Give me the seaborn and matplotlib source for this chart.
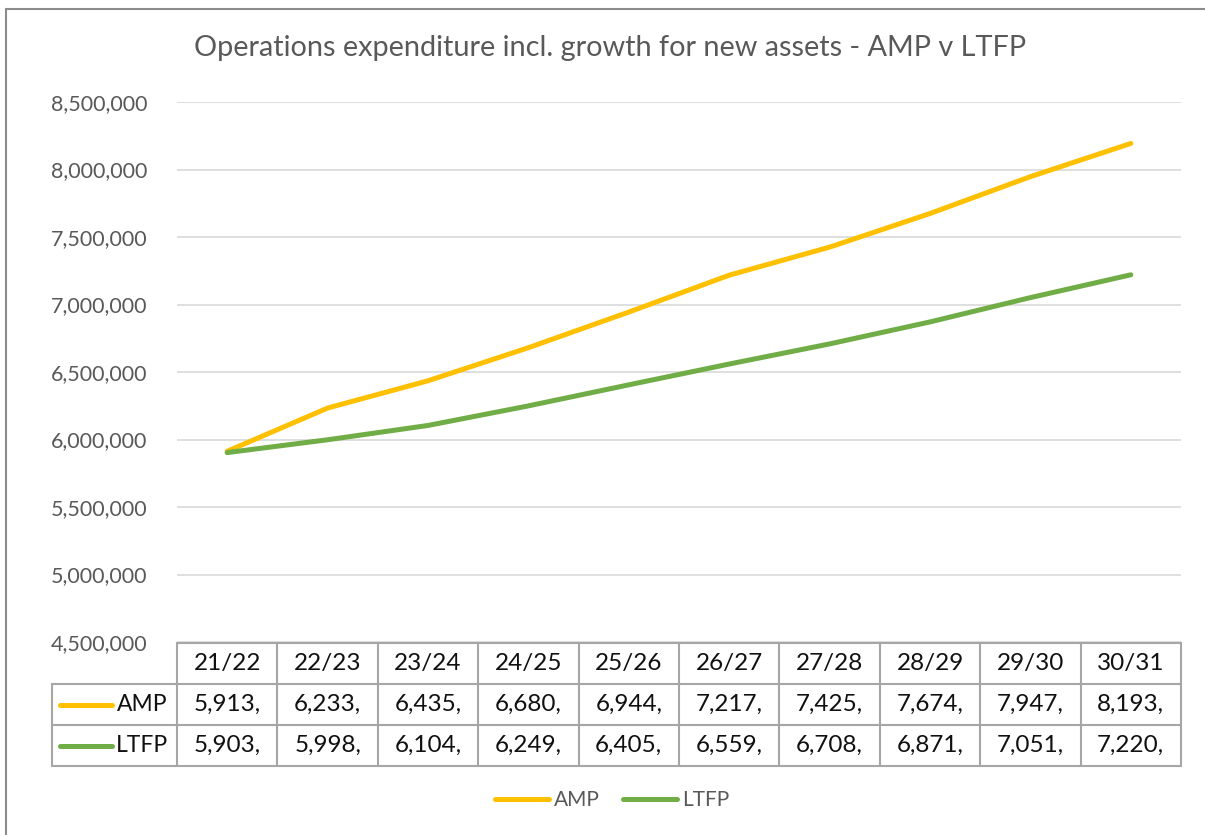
import matplotlib
matplotlib.use('Agg')
import matplotlib.pyplot as plt
import matplotlib.patches as mpatches
import pandas as pd
import seaborn as sns

years = ['21/22', '22/23', '23/24', '24/25', '25/26', '26/27', '27/28', '28/29', '29/30', '30/31']
amp = [5913000, 6233000, 6435000, 6680000, 6944000, 7217000, 7425000, 7674000, 7947000, 8193000]
ltfp = [5903000, 5998000, 6104000, 6249000, 6405000, 6559000, 6708000, 6871000, 7051000, 7220000]
series_names = ['AMP', 'LTFP']
colors = {'AMP': '#FFC000', 'LTFP': '#70AD47'}

df = pd.DataFrame({'year': years, 'AMP': amp, 'LTFP': ltfp})
df['pos'] = range(len(years))
df_long = df.melt(id_vars=['year', 'pos'], value_vars=series_names, var_name='series', value_name='value')

sns.set_theme(style='white')
plt.rcParams['font.family'] = ['Lato', 'DejaVu Sans']

W, H = 1205, 835
fig = plt.figure(figsize=(W / 100, H / 100), dpi=100)

def box(l, t, r, b):
    return [l / W, 1 - b / H, (r - l) / W, (b - t) / H]

grey_txt = '#595959'
grid_col = '#D9D9D9'
table_col = '#A6A6A6'

# Outer chart frame (cropped on right / bottom)
fig.add_artist(mpatches.Rectangle((6 / W, -0.1), 2, 1 - 9 / H + 0.1, transform=fig.transFigure,
                                  fill=False, edgecolor='#8C8C8C', lw=1.5))

# Main plot
ax = fig.add_axes(box(177, 102, 1181, 642))
sns.lineplot(data=df_long, x='pos', y='value', hue='series', palette=colors, ax=ax,
             linewidth=3.6, legend=False)
ax.set_xlim(-0.5, len(years) - 0.5)
ax.set_ylim(4500000, 8500000)
ax.set_yticks(range(4500000, 8500001, 500000))
ax.set_yticklabels([f'{v:,}' for v in range(4500000, 8500001, 500000)], color=grey_txt, fontsize=15.5)
ax.tick_params(axis='y', length=0, pad=21.5)
ax.set_xticks([])
ax.set_xlabel('')
ax.set_ylabel('')
for s in ax.spines.values():
    s.set_visible(False)
ax.grid(axis='y', color=grid_col, lw=1.2)
ax.set_axisbelow(True)
for line in ax.lines:
    line.set_solid_capstyle('round')

fig.text(610 / W, 1 - 48 / H, 'Operations expenditure incl. growth for new assets - AMP v LTFP',
         ha='center', va='center', fontsize=20.8, color=grey_txt)

# Data table below the plot, sharing the category x positions
tax = fig.add_axes(box(177, 643, 1181, 766))
tax.set_xlim(-0.5, len(years) - 0.5)
tax.set_ylim(3, 0)
tax.axis('off')
colw = 1004 / len(years)
lab_left = -0.5 - 125 / colw
kw = dict(color=table_col, lw=1.5, clip_on=False)
tax.plot([-0.5, len(years) - 0.5], [0, 0], **kw)
for r in (1, 2, 3):
    tax.plot([lab_left, len(years) - 0.5], [r, r], **kw)
for c in range(len(years) + 1):
    tax.plot([c - 0.5, c - 0.5], [0, 3], **kw)
tax.plot([lab_left, lab_left], [1, 3], **kw)

tfs = 17.5
for i, y in enumerate(years):
    tax.text(i, 0.5, y, ha='center', va='center', fontsize=tfs, color='#111111')
for r, name in enumerate(series_names, start=1):
    vals = df[name]
    for i, v in enumerate(vals):
        tax.text(i, r + 0.5, f'{v // 1000:,},', ha='center', va='center', fontsize=tfs, color='#111111')
    tax.plot([lab_left + 8 / colw, lab_left + 60 / colw], [r + 0.5, r + 0.5], color=colors[name], lw=3.6,
             solid_capstyle='round', clip_on=False)
    tax.text(-0.5 - 9 / colw, r + 0.5, name, ha='right', va='center', fontsize=16.5, color='#111111')

# Legend at the bottom
handles = [plt.Line2D([], [], color=colors[n], lw=3.6, solid_capstyle='round') for n in series_names]
fig.legend(handles, series_names, loc='center', bbox_to_anchor=(612 / W, 1 - 800 / H), ncol=2,
           frameon=False, fontsize=15, labelcolor=grey_txt, handlelength=2.6, handletextpad=0.25,
           columnspacing=1.1)

plt.savefig('out.png', dpi=100)
